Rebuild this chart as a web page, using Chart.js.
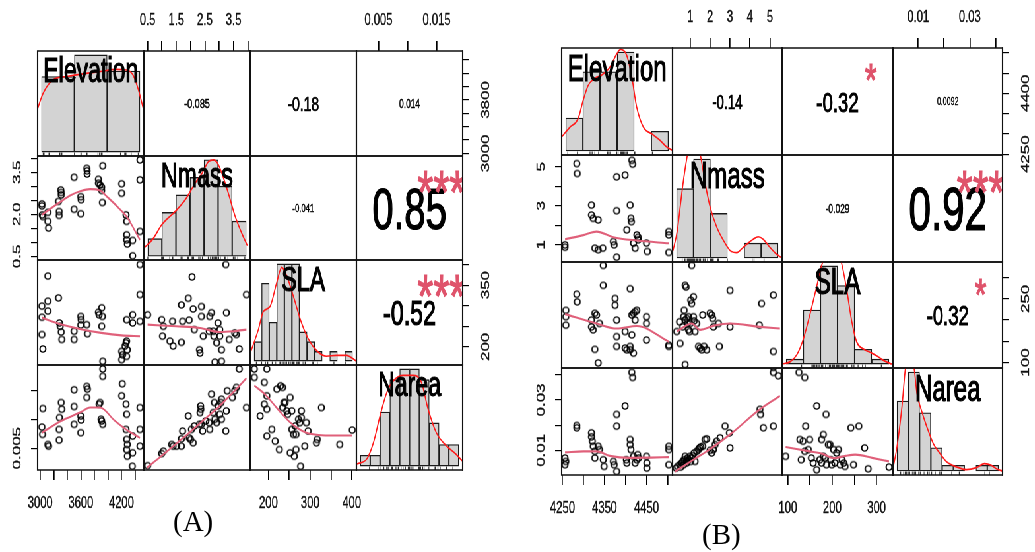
<!DOCTYPE html>
<html><head><meta charset="utf-8">
<script src="https://cdn.jsdelivr.net/npm/chart.js@4.4.1/dist/chart.umd.min.js"></script>
<style>
html,body{margin:0;padding:0;background:#fff;width:1035px;height:552px;overflow:hidden;}
#stage{position:absolute;left:0;top:0;width:1569px;height:552px;transform:scaleX(0.66);transform-origin:0 0;}
#stage canvas{position:absolute;}
.lab{position:absolute;font-family:"Liberation Serif","Times New Roman",serif;font-size:29px;line-height:29px;color:#000;}
</style></head><body>
<div id="stage"></div>
<div class="lab" style="left:173px;top:507px">(A)</div>
<div class="lab" style="left:702px;top:520px">(B)</div>
<script>
// ================= DATA : panel A =================
const VAR_NAMES = ['Elevation','Nmass','SLA','Narea'];

const A_ranges = [[2962,4532],[0.37,4.08],[156,411],[0.0012,0.0195]];
const A_elev_ticks = [3000,3200,3400,3600,3800,4000,4200,4400];
const A_nmass_ticks = [0.5,1,1.5,2,2.5,3,3.5,4];
const A_sla_ticks = [200,250,300,350,400];
const A_narea_ticks = [0.005,0.01,0.015];
const A_elev_labels_bottom = ['3000','3600','4200'];
const A_elev_labels_right = ['3000','3800'];
const A_nmass_labels_top = ['0.5','1.5','2.5','3.5'];
const A_nmass_labels_left = ['0.5','2.0','3.5'];
const A_sla_labels_bottom = ['200','300','400'];
const A_sla_labels_right = ['200','350'];
const A_narea_labels_top = ['0.005','0.015'];
const A_narea_labels_left = ['0.005'];

const A_NmassVsElev = [[3025,2.37],[3025,2.30],[3029,1.98],[3039,1.92],[3113,2.07],[3113,1.75],[3123,1.51],[3270,2.46],[3280,2.10],[3280,1.96],[3305,2.87],[3310,2.78],[3310,2.69],[3501,3.32],[3501,2.18],[3599,2.63],[3604,2.52],[3599,2.02],[3688,3.64],[3693,3.55],[3693,3.44],[3860,3.25],[3860,3.11],[3884,3.05],[3909,2.97],[3909,2.85],[3919,2.42],[3924,3.73],[4204,3.09],[4204,2.75],[4268,1.98],[4277,1.75],[4277,1.27],[4277,1.09],[4287,0.94],[4366,1.07],[4366,0.52],[4474,3.94],[4474,3.23],[4474,1.39]];
const A_NmassVsElev_fit = [[3025,1.98],[3150,2.2],[3300,2.45],[3450,2.68],[3600,2.83],[3737,2.9],[3884,2.85],[4000,2.6],[4150,2.25],[4277,1.92],[4380,1.5],[4474,1.09]];

const A_SlaVsElev = [[3025,299],[3025,272],[3025,230],[3039,195],[3113,372],[3113,311],[3113,287],[3270,319],[3285,258],[3295,250],[3310,236],[3319,218],[3501,238],[3501,218],[3599,274],[3604,266],[3599,253],[3688,254],[3698,232],[3860,284],[3870,278],[3909,295],[3919,274],[3909,250],[3924,165],[4204,169],[4204,189],[4218,181],[4253,202],[4268,210],[4277,266],[4277,214],[4287,193],[4277,177],[4366,278],[4366,258],[4474,400],[4474,327],[4474,262]];
const A_SlaVsElev_fit = [[3025,271],[3300,255],[3600,243],[3900,234],[4200,228],[4474,226]];

const A_NareaVsElev = [[3025,0.00869],[3039,0.01191],[3034,0.0074],[3113,0.00565],[3123,0.00536],[3280,0.00828],[3280,0.00641],[3285,0.01033],[3310,0.01296],[3319,0.01179],[3501,0.01518],[3501,0.01226],[3501,0.00916],[3599,0.01062],[3604,0.00992],[3599,0.0077],[3688,0.01577],[3698,0.0153],[3688,0.01384],[3870,0.01267],[3884,0.01296],[3899,0.01004],[3909,0.00974],[3924,0.00916],[3924,0.01881],[3924,0.01752],[4213,0.01623],[4204,0.01413],[4268,0.01266],[4277,0.01091],[4268,0.00828],[4277,0.00653],[4287,0.00565],[4277,0.00477],[4287,0.0036],[4366,0.00712],[4366,0.0042],[4361,0.00186],[4474,0.01208],[4474,0.00828],[4474,0.00536]];
const A_NareaVsElev_fit = [[3025,0.0077],[3300,0.0097],[3600,0.0113],[3737,0.0121],[3884,0.0121],[4100,0.0098],[4277,0.0082],[4474,0.0068]];

const A_SlaVsNmass = [[0.50,278],[0.99,266],[1.05,250],[1.02,226],[1.28,214],[1.37,262],[1.39,202],[1.68,302],[1.68,211],[1.72,262],[1.92,318],[1.95,265],[2.05,370],[2.09,292],[2.13,242],[2.31,193],[2.33,185],[2.38,298],[2.38,274],[2.44,226],[2.65,238],[2.67,274],[2.73,283],[2.79,238],[2.81,226],[2.85,163],[2.91,210],[2.96,258],[3.02,242],[3.02,226],[3.08,193],[3.08,165],[3.23,400],[3.25,283],[3.35,218],[3.54,234],[3.60,230],[3.70,195],[3.95,327]];
const A_SlaVsNmass_fit = [[0.5,254],[1.5,250],[2.33,246],[3.02,236],[3.5,238],[3.95,242]];

const A_NareaVsNmass = [[0.50,0.00196],[0.99,0.00407],[1.05,0.00448],[1.34,0.00565],[1.39,0.00536],[1.51,0.00536],[1.68,0.00536],[1.68,0.00664],[1.72,0.00799],[1.92,0.01062],[1.95,0.00682],[2.00,0.00653],[2.03,0.00828],[2.09,0.00594],[2.13,0.00887],[2.31,0.00916],[2.33,0.0112],[2.35,0.01237],[2.36,0.01179],[2.38,0.00916],[2.42,0.00799],[2.53,0.00974],[2.65,0.00945],[2.67,0.00828],[2.73,0.01442],[2.79,0.0112],[2.83,0.01296],[2.85,0.01004],[2.91,0.00945],[2.96,0.01237],[3.02,0.01091],[3.06,0.01296],[3.08,0.01354],[3.08,0.01004],[3.23,0.00799],[3.25,0.0115],[3.28,0.01501],[3.46,0.01384],[3.54,0.01501],[3.60,0.01559],[3.70,0.01881],[3.95,0.01208]];
const A_NareaVsNmass_fit = [[0.47,0.0016],[1.0,0.0037],[1.5,0.0058],[2.0,0.0079],[2.5,0.0101],[3.0,0.0123],[3.5,0.0148],[3.95,0.0172]];

const A_NareaVsSla = [[166,0.01881],[166,0.01734],[196,0.01881],[190,0.01647],[196,0.01413],[190,0.01267],[180,0.01062],[196,0.01179],[208,0.00828],[196,0.00711],[216,0.00623],[226,0.00477],[220,0.0153],[229,0.01588],[234,0.01559],[237,0.01296],[234,0.01208],[240,0.01296],[244,0.0115],[246,0.01091],[252,0.01384],[252,0.00419],[256,0.0115],[256,0.00828],[260,0.0074],[264,0.00887],[266,0.0074],[262,0.0036],[266,0.00477],[272,0.01004],[275,0.00945],[277,0.00185],[279,0.0115],[279,0.01033],[287,0.00536],[291,0.00945],[295,0.00799],[315,0.00594],[317,0.00653],[327,0.01208],[371,0.00565],[401,0.00817]];
const A_NareaVsSla_fit = [[166,0.0159],[190,0.0145],[212,0.0127],[232,0.011],[252,0.0095],[272,0.0084],[291,0.0077],[320,0.0073],[360,0.0072],[401,0.0072]];

const A_elev_breaks = [3000,3500,4000,4500];
const A_elev_counts = [14,18,15];
const A_elev_density = [[2933,7.8],[3024,10.9],[3177,13.4],[3380,14.0],[3633,14.5],[3887,14.9],[4141,15.3],[4293,15.2],[4393,14.3],[4470,11.8],[4556,7.8]];
const A_nmass_breaks = [0.5,1,1.5,2,2.5,3,3.5,4];
const A_nmass_counts = [2,5,7,9,11,8,4];
const A_nmass_density = [[0.35,0.9],[0.68,1.96],[1.01,3.65],[1.49,5.16],[1.84,6.48],[2.19,8.36],[2.43,9.49],[2.66,10.81],[2.84,11.0],[3.01,10.43],[3.36,7.23],[3.6,4.6],[3.83,2.71],[4.04,1.2]];
const A_sla_breaks = [160,180,200,220,240,260,280,300,320,340,360,380,400,420];
const A_sla_counts = [2,8,4,10,10,10,3,2,1,0,1,0,1];
const A_sla_density = [[149.5,0.77],[171,3.2],[184.5,5.1],[202,5.6],[220,8.1],[233,9.65],[246,8.8],[263.5,6.7],[285.6,3.9],[303,2.3],[325,1.1],[351.5,0.5],[378,0.6],[404,0.6],[430.5,0]];
const A_narea_breaks = [0,0.002,0.004,0.006,0.008,0.01,0.012,0.014,0.016,0.018,0.02];
const A_narea_counts = [1,1,5,8,9,9,8,4,2,2];
const A_narea_density = [[-0.00067,0.2],[0.00134,0.68],[0.00268,2.2],[0.00403,4.7],[0.00537,6.8],[0.00671,7.9],[0.00872,8.4],[0.01074,8.4],[0.01242,7.75],[0.01376,5.3],[0.01544,3.1],[0.01745,1.9],[0.01946,1.1],[0.02067,0.5]];

const A_corr_values = ['-0.085','-0.18','0.014','-0.041','0.85','-0.52'];
const A_corr_stars = ['','','','','***','***'];

// ================= DATA : panel B =================
const B_ranges = [[4248,4512],[0.12,5.61],[87,337],[0.0002,0.0427]];
const B_elev_ticks = [4250,4300,4350,4400,4450,4500];
const B_nmass_ticks = [1,2,3,4,5];
const B_sla_ticks = [100,150,200,250,300];
const B_narea_ticks = [0.01,0.02,0.03,0.04];
const B_elev_labels_bottom = ['4250','4350','4450'];
const B_elev_labels_right = ['4250','4400'];
const B_nmass_labels_top = ['1','2','3','4','5'];
const B_nmass_labels_left = ['1','3','5'];
const B_sla_labels_bottom = ['100','200','300'];
const B_sla_labels_right = ['100','250'];
const B_narea_labels_top = ['0.01','0.03'];
const B_narea_labels_left = ['0.01','0.03'];

const B_NmassVsElev = [[4256,1.00],[4256,0.88],[4284,5.17],[4285,4.66],[4319,3.04],[4319,2.53],[4323,2.36],[4335,2.28],[4327,0.83],[4335,0.75],[4346,0.83],[4371,1.17],[4373,1.0],[4379,4.49],[4379,2.75],[4379,0.37],[4399,4.58],[4403,1.77],[4411,3.04],[4413,2.36],[4414,2.19],[4415,5.34],[4417,5.14],[4419,1.09],[4423,0.83],[4427,1.51],[4430,1.39],[4430,1.26],[4450,1.09],[4452,0.66],[4503,1.68],[4503,1.51],[4503,0.61]];
const B_NmassVsElev_fit = [[4256,1.29],[4300,1.5],[4331,1.68],[4371,1.39],[4427,1.22],[4503,1.08]];

const B_SlaVsElev = [[4258,223],[4258,208],[4258,188],[4284,261],[4285,243],[4319,200],[4319,184],[4323,177],[4327,216],[4331,212],[4335,99],[4327,131],[4347,282],[4347,329],[4375,251],[4375,235],[4379,200],[4379,161],[4379,138],[4399,134],[4403,130],[4399,173],[4411,274],[4415,212],[4419,216],[4423,220],[4427,223],[4423,200],[4415,165],[4411,130],[4411,138],[4419,122],[4450,208],[4450,192],[4450,153],[4503,141],[4503,138],[4338,192]];
const B_SlaVsElev_fit = [[4256,214],[4331,192],[4379,180],[4427,186],[4503,149]];

const B_NareaVsElev = [[4256,0.00695],[4258,0.00561],[4256,0.00428],[4284,0.01988],[4284,0.01895],[4319,0.01695],[4319,0.01535],[4321,0.01361],[4323,0.01161],[4327,0.00961],[4327,0.00695],[4335,0.01161],[4338,0.01028],[4347,0.00628],[4349,0.00361],[4371,0.00561],[4373,0.00428],[4379,0.00161],[4379,0.02428],[4379,0.01961],[4399,0.02761],[4402,0.00628],[4403,0.00495],[4411,0.01428],[4411,0.01228],[4413,0.01028],[4415,0.04095],[4417,0.03895],[4419,0.00761],[4423,0.00495],[4427,0.00628],[4429,0.00828],[4431,0.00695],[4450,0.00761],[4451,0.00495],[4451,0.00295],[4503,0.01161],[4503,0.01028],[4503,0.00428]];
const B_NareaVsElev_fit = [[4256,0.0092],[4300,0.0096],[4331,0.0096],[4363,0.0078],[4411,0.007],[4460,0.0071],[4503,0.0073]];

const B_SlaVsNmass = [[0.33,173],[0.50,145],[0.63,184],[0.67,208],[0.70,223],[0.75,282],[0.80,278],[0.75,200],[0.83,204],[0.87,192],[0.92,208],[0.92,177],[0.97,173],[1.00,192],[1.03,247],[1.08,239],[1.17,255],[1.17,208],[1.20,198],[1.25,173],[1.33,192],[1.42,138],[1.50,134],[1.58,130],[1.63,212],[1.70,138],[1.83,130],[2.00,216],[2.08,212],[2.13,204],[2.17,184],[2.42,192],[2.47,138],[3.00,270],[3.00,184],[4.47,188],[4.58,239],[5.17,259],[5.17,126],[0.75,95],[1.08,329],[0.47,196]];
const B_SlaVsNmass_fit = [[0.33,173],[1.08,192],[1.5,177],[2.2,187],[3.0,192],[4.5,184],[5.5,180]];

const B_NareaVsNmass = [[0.30,0.00295],[0.37,0.00361],[0.47,0.00428],[0.53,0.00335],[0.58,0.00495],[0.63,0.00561],[0.67,0.00428],[0.70,0.00628],[0.75,0.00761],[0.80,0.00561],[0.83,0.00495],[0.87,0.00695],[0.92,0.00628],[1.00,0.00761],[1.03,0.00561],[1.08,0.00695],[1.13,0.00788],[1.20,0.00895],[1.25,0.00561],[1.33,0.00961],[1.42,0.01028],[1.47,0.01095],[1.53,0.01135],[1.63,0.01161],[1.75,0.01428],[1.83,0.01455],[2.00,0.01001],[2.08,0.00895],[2.17,0.01028],[2.25,0.01228],[2.33,0.01361],[2.50,0.01495],[2.75,0.01961],[2.97,0.01695],[3.00,0.01095],[4.50,0.02628],[4.53,0.02428],[4.67,0.01895],[5.17,0.01961],[5.17,0.04095],[5.17,0.04295],[5.42,0.03961]];
const B_NareaVsNmass_fit = [[0.25,0.0016],[1.17,0.0063],[1.83,0.0096],[3.0,0.0163],[4.5,0.0263],[5.5,0.0316]];

const B_NareaVsSla = [[95,0.00761],[125,0.04095],[138,0.03895],[130,0.00628],[140,0.01961],[127,0.01428],[134,0.01361],[149,0.01428],[138,0.00961],[146,0.01028],[153,0.00695],[157,0.00495],[165,0.02761],[165,0.00228],[172,0.00628],[176,0.01428],[180,0.01628],[184,0.00695],[186,0.02428],[187,0.00428],[191,0.01228],[195,0.01228],[197,0.00628],[199,0.00428],[203,0.01028],[206,0.00495],[210,0.00895],[214,0.01028],[218,0.00428],[222,0.00628],[226,0.00495],[229,0.00361],[242,0.01895],[248,0.00428],[260,0.01961],[273,0.01095],[281,0.00268],[328,0.00335],[176,0.00495],[180,0.00761]];
const B_NareaVsSla_fit = [[95,0.0113],[149,0.0096],[180,0.0085],[203,0.0069],[230,0.0078],[252,0.0083],[290,0.007],[328,0.0056]];

const B_elev_breaks = [4250,4300,4350,4400,4450,4500,4550];
const B_elev_counts = [5,12,12,15,0,3];
const B_elev_density = [[4237,2.1],[4262,3.6],[4286,4.9],[4301,7.7],[4315,9.9],[4335,11.0],[4355,11.5],[4379,12.7],[4399,14.7],[4410,15.4],[4428,14.5],[4443,11.2],[4457,6.7],[4477,3.6],[4501,2.6],[4526,1.6],[4545,0.6],[4562,0.1]];
const B_nmass_breaks = [0,1,2,3,4,5,6];
const B_nmass_counts = [14,20,9,0,3,3];
const B_nmass_density = [[-0.21,1.5],[0.04,5.5],[0.23,10.9],[0.43,16.3],[0.63,20.7],[0.92,25.7],[1.21,23],[1.41,20.7],[1.7,14.9],[1.99,10.2],[2.38,6.2],[2.78,3.5],[3.17,1.5],[3.56,1.1],[3.95,2.2],[4.53,3.8],[4.83,4.3],[5.12,3.8],[5.51,2.2],[5.9,0.8],[6.2,0.1]];
const B_sla_breaks = [50,100,150,200,250,300,350];
const B_sla_counts = [1,11,20,16,3,1];
const B_sla_density = [[38,0],[62,0.5],[81,1.9],[100,5.1],[120,10.3],[139,15.8],[154,20.2],[183,24],[198,23.3],[212,20.5],[227,15.1],[241,8.9],[256,4.5],[275,3.1],[295,2.4],[314,1.7],[333,0.8],[358,0]];
const B_narea_breaks = [0,0.005,0.01,0.015,0.02,0.025,0.03,0.035,0.04,0.045];
const B_narea_counts = [12,17,10,4,1,1,0,1,1];
const B_narea_density = [[-0.0015,1.0],[0.0,4.2],[0.0022,11.1],[0.0037,17.5],[0.0056,20],[0.0076,17.5],[0.0088,13.4],[0.011,10.2],[0.0132,7.6],[0.0161,4.7],[0.0191,3.0],[0.022,1.6],[0.0264,0.7],[0.0308,0.23],[0.0352,0.58],[0.0388,1.27],[0.0418,1.0],[0.044,0.4],[0.0468,0]];

const B_corr_values = ['-0.14','-0.32','0.0092','-0.029','0.92','-0.32'];
const B_corr_stars = ['','*','','','***','*'];

// ================= LAYOUT / STYLE =================
const S = 0.66;            // horizontal squish of the whole figure
const M = 48;              // axis band (container px)
const PADM = 14;           // margin on sides without axis
const VMARG = 30;          // extra vertical room for rotated labels
const FONT = '"Liberation Sans", Arimo, Arial, Helvetica, sans-serif';
const stage = document.getElementById('stage');

function ringImage(){
  const w = Math.ceil(10/S), h = 10;
  const c = document.createElement('canvas'); c.width = w; c.height = h;
  const g = c.getContext('2d');
  g.setTransform(1/S,0,0,1,w/2,h/2);
  g.strokeStyle = '#000'; g.lineWidth = 1.35;
  g.beginPath(); g.ellipse(0,0,2.9,3.15,0,0,Math.PI*2); g.stroke();
  return c;
}
const RING = ringImage();

const pairs = a => a.map(p => ({x:p[0], y:p[1]}));
function mids(b){ const m=[]; for(let i=0;i<b.length-1;i++) m.push((b[i]+b[i+1])/2); return m; }
function matchLabel(labels, v){ if(!labels) return ''; for(const l of labels) if(Math.abs(parseFloat(l)-v) < 1e-9) return l; return ''; }

const PANELS = [
 { cols:[37.3,144,250,356.7,462.7], rows:[50.7,156,260,365.3,470],
   ranges:A_ranges, ticks:[A_elev_ticks,A_nmass_ticks,A_sla_ticks,A_narea_ticks],
   labTop:[null,A_nmass_labels_top,null,A_narea_labels_top],
   labBottom:[A_elev_labels_bottom,null,A_sla_labels_bottom,null],
   labLeft:[null,A_nmass_labels_left,null,A_narea_labels_left],
   labRight:[A_elev_labels_right,null,A_sla_labels_right,null],
   scatter:{'1,0':[A_NmassVsElev,A_NmassVsElev_fit],'2,0':[A_SlaVsElev,A_SlaVsElev_fit],'3,0':[A_NareaVsElev,A_NareaVsElev_fit],
            '2,1':[A_SlaVsNmass,A_SlaVsNmass_fit],'3,1':[A_NareaVsNmass,A_NareaVsNmass_fit],'3,2':[A_NareaVsSla,A_NareaVsSla_fit]},
   hist:[[A_elev_breaks,A_elev_counts,A_elev_density,A_NmassVsElev.map(p=>p[0])],
         [A_nmass_breaks,A_nmass_counts,A_nmass_density,A_SlaVsNmass.map(p=>p[0])],
         [A_sla_breaks,A_sla_counts,A_sla_density,A_NareaVsSla.map(p=>p[0])],
         [A_narea_breaks,A_narea_counts,A_narea_density,A_NareaVsElev.map(p=>p[1])]],
   corr:A_corr_values, stars:A_corr_stars,
   corrSize:[13.7,21,12.5,11.6,58,35], starSize:[0,0,0,0,62,62], nameSize:35, nameFy:0.174 },
 { cols:[561.7,672.3,782.3,892.7,1002.7], rows:[48.3,155,261.7,368.3,475],
   ranges:B_ranges, ticks:[B_elev_ticks,B_nmass_ticks,B_sla_ticks,B_narea_ticks],
   labTop:[null,B_nmass_labels_top,null,B_narea_labels_top],
   labBottom:[B_elev_labels_bottom,null,B_sla_labels_bottom,null],
   labLeft:[null,B_nmass_labels_left,null,B_narea_labels_left],
   labRight:[B_elev_labels_right,null,B_sla_labels_right,null],
   scatter:{'1,0':[B_NmassVsElev,B_NmassVsElev_fit],'2,0':[B_SlaVsElev,B_SlaVsElev_fit],'3,0':[B_NareaVsElev,B_NareaVsElev_fit],
            '2,1':[B_SlaVsNmass,B_SlaVsNmass_fit],'3,1':[B_NareaVsNmass,B_NareaVsNmass_fit],'3,2':[B_NareaVsSla,B_NareaVsSla_fit]},
   hist:[[B_elev_breaks,B_elev_counts,B_elev_density,B_NmassVsElev.map(p=>p[0])],
         [B_nmass_breaks,B_nmass_counts,B_nmass_density,B_SlaVsNmass.map(p=>p[0])],
         [B_sla_breaks,B_sla_counts,B_sla_density,B_NareaVsSla.map(p=>p[0])],
         [B_narea_breaks,B_narea_counts,B_narea_density,B_NareaVsElev.map(p=>p[1])]],
   corr:B_corr_values, stars:B_corr_stars,
   corrSize:[20,28.3,10.7,12.8,61,28], starSize:[0,46,0,0,62,45], nameSize:36.5, nameFy:0.182 }
];
const UPPER = ['0,1','0,2','0,3','1,2','1,3','2,3'];

function zeroPad(s){ s.paddingLeft = 0; s.paddingRight = 0; s.paddingTop = 0; s.paddingBottom = 0; }

function scaleCfg(range, ticks, pos, labels, band){
  const base = {type:'linear', min:range[0], max:range[1], offset:false};
  if(!pos) return Object.assign(base,{display:false});
  const horiz = (pos==='top'||pos==='bottom');
  return Object.assign(base,{
    display:true, position:pos,
    afterBuildTicks: s => { s.ticks = ticks.map(v=>({value:v})); },
    afterFit: s => { if(horiz) s.height = band; else s.width = band; zeroPad(s); },
    grid:{display:true, drawOnChartArea:false, drawTicks:true, tickLength:10, color:'#000', lineWidth: horiz?1.7:1.2},
    border:{display:false},
    ticks: horiz ? {display:true, autoSkip:false, maxRotation:0, minRotation:0, padding: pos==='top'?10.8:12.8,
                    color:'#111', textStrokeColor:'#111', textStrokeWidth:0.35,
                    font:{family:FONT, size:17}, callback: v => matchLabel(labels, v)}
                 : {display:false}
  });
}

function cellPlugin(spec){
  return {
    id:'cellDeco',
    afterDatasetsDraw(chart){
      const ctx = chart.ctx, a = chart.chartArea;
      const w = a.right-a.left, h = a.bottom-a.top;
      if(spec.rug){
        const xs = chart.scales.x;
        ctx.save(); ctx.strokeStyle='#333'; ctx.lineWidth=1.3; ctx.beginPath();
        for(const v of spec.rug){ const px = xs.getPixelForValue(v); ctx.moveTo(px,a.bottom); ctx.lineTo(px,a.bottom-3.4); }
        ctx.stroke(); ctx.restore();
      }
      ctx.save(); ctx.beginPath(); ctx.rect(a.left,a.top,w,h); ctx.clip();
      for(const t of spec.texts||[]){
        ctx.font = t.size+'px '+FONT; ctx.fillStyle = t.color; ctx.strokeStyle = t.color;
        ctx.textAlign='center'; ctx.textBaseline='alphabetic';
        const x = a.left + t.fx*w, y = a.top + t.fy*h + t.dy*t.size;
        ctx.fillText(t.text, x, y);
        ctx.lineWidth = Math.min(1.2, t.size/30); ctx.strokeText(t.text, x, y);
      }
      ctx.restore();
      ctx.save(); ctx.strokeStyle='#111';
      ctx.lineWidth=1.4; ctx.beginPath();
      ctx.moveTo(a.left,a.top); ctx.lineTo(a.right,a.top); ctx.moveTo(a.left,a.bottom); ctx.lineTo(a.right,a.bottom); ctx.stroke();
      ctx.lineWidth=2.1; ctx.beginPath();
      ctx.moveTo(a.left,a.top-0.7); ctx.lineTo(a.left,a.bottom+0.7); ctx.moveTo(a.right,a.top-0.7); ctx.lineTo(a.right,a.bottom+0.7); ctx.stroke();
      ctx.restore();
      if(spec.vlab){
        const ys = chart.scales.y;
        ctx.save(); ctx.font = '17px '+FONT; ctx.fillStyle='#111'; ctx.strokeStyle='#111'; ctx.lineWidth=0.35;
        ctx.textAlign='center'; ctx.textBaseline='middle';
        for(const l of spec.vlab.labels){
          const y = ys.getPixelForValue(parseFloat(l));
          const x = spec.vlab.pos==='left' ? a.left-31 : a.right+35.5;
          ctx.save(); ctx.translate(x,y); ctx.rotate(-Math.PI/2); ctx.fillText(l,0,0); ctx.strokeText(l,0,0); ctx.restore();
        }
        ctx.restore();
      }
    }
  };
}

function buildPanel(P){
  for(let r=0;r<4;r++) for(let c=0;c<4;c++){
    const top = r===0 && c%2===1, bottom = r===3 && c%2===0, left = c===0 && r%2===1, right = c===3 && r%2===0;
    const hasV = left || right;
    const X0 = P.cols[c]/S, X1 = P.cols[c+1]/S, Y0 = P.rows[r], Y1 = P.rows[r+1];
    const ml = left?M:PADM, mr = right?M:PADM;
    const mt = top?M:(hasV?VMARG:PADM), mb = bottom?M:(hasV?VMARG:PADM);
    const cl = Math.round(X0-ml), ct = Math.round(Y0-mt);
    const cw = Math.round(X1+mr)-cl, ch = Math.round(Y1+mb)-ct;
    const aL = Math.round(X0)-cl, aR = cl+cw-Math.round(X1), aT = Math.round(Y0)-ct, aB = ct+ch-Math.round(Y1);
    const cv = document.createElement('canvas');
    cv.width = cw; cv.height = ch; cv.style.left = cl+'px'; cv.style.top = ct+'px';
    stage.appendChild(cv);

    const spec = {texts:[]};
    let type = 'scatter', datasets = [], xs, ys;
    const key = r+','+c;
    if(r===c){
      const [br, cnt, dens, rug] = P.hist[r];
      const span = br[br.length-1]-br[0], mx = Math.max(...cnt);
      const mid = mids(br);
      type = 'bar';
      datasets = [
        {type:'line', data:pairs(dens), borderColor:'#ff1a1a', borderWidth:1.7, pointRadius:0, cubicInterpolationMode:'monotone', clip:0, order:0},
        {type:'bar', data:mid.map((m,i)=>({x:m,y:cnt[i]})), backgroundColor:'#d3d3d3', borderColor:'#1a1a1a', borderWidth:1.35,
         borderSkipped:false, barPercentage:1, categoryPercentage:1, order:1}
      ];
      xs = {type:'linear', display:false, offset:false, min:br[0]-0.04*span, max:br[br.length-1]+0.04*span};
      ys = {type:'linear', display:false, min:-0.04*mx, max:1.04*mx};
      spec.rug = rug;
      spec.texts.push({text:VAR_NAMES[r], size:P.nameSize, color:'#000', fx:0.5, fy:P.nameFy, dy:0.358});
    } else {
      xs = scaleCfg(P.ranges[c], P.ticks[c], top?'top':(bottom?'bottom':null), top?P.labTop[c]:P.labBottom[c], top?aT:aB);
      ys = scaleCfg(P.ranges[r], P.ticks[r], left?'left':(right?'right':null), null, left?aL:aR);
      if(left) spec.vlab = {pos:'left', labels:P.labLeft[r]};
      if(right) spec.vlab = {pos:'right', labels:P.labRight[r]};
      if(r>c){
        const [pts, fit] = P.scatter[key];
        datasets = [
          {type:'line', data:pairs(fit), borderColor:'#e0607a', borderWidth:2.1, pointRadius:0, cubicInterpolationMode:'monotone', order:0},
          {type:'scatter', data:pairs(pts), pointStyle:RING, pointRadius:3, order:1}
        ];
      } else {
        const k = UPPER.indexOf(key);
        spec.texts.push({text:P.corr[k], size:P.corrSize[k], color:'#000', fx:0.5, fy:0.5, dy:0.358});
        if(P.stars[k]) spec.texts.push({text:P.stars[k], size:P.starSize[k], color:'#df536b', fx:0.8, fy:0.21, dy:0.565});
      }
    }
    new Chart(cv, {
      type, data:{datasets},
      options:{
        responsive:false, animation:false, devicePixelRatio:1, events:[],
        layout:{autoPadding:false, padding:{left:left?0:aL, right:right?0:aR, top:top?0:aT, bottom:bottom?0:aB}},
        plugins:{legend:{display:false}, tooltip:{enabled:false}},
        scales:{x:xs, y:ys}
      },
      plugins:[cellPlugin(spec)]
    });
  }
}
PANELS.forEach(buildPanel);
</script>
</body></html>
